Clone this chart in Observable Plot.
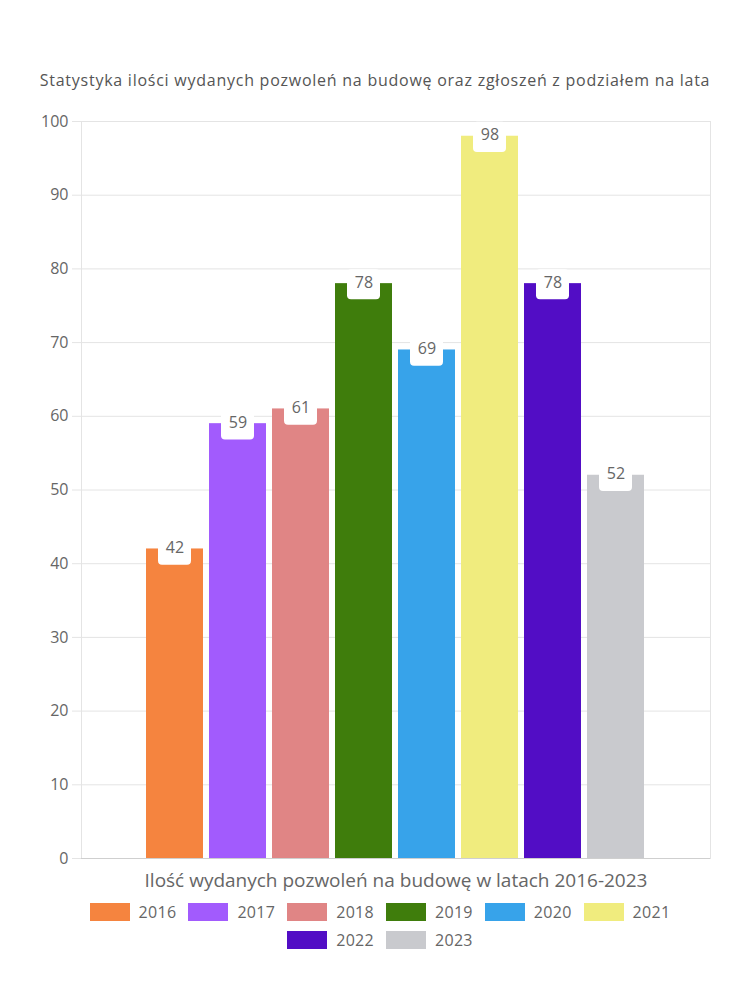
<!DOCTYPE html>
<html><head><meta charset="utf-8">
<script src="https://cdn.jsdelivr.net/npm/d3@7"></script>
<script src="https://cdn.jsdelivr.net/npm/@observablehq/plot@0.6"></script>
<style>
body{margin:0;background:#fff;font-family:"Open Sans",sans-serif;}
#wrap{position:relative;width:750px;height:1000px;}
#title{position:absolute;top:69px;left:0;width:750px;text-align:center;font-size:16px;color:#555;white-space:nowrap;z-index:2;letter-spacing:0.75px;}
#chart{position:absolute;top:0;left:0;}
#legend{position:absolute;top:901px;left:75px;width:610px;display:flex;flex-wrap:wrap;justify-content:center;row-gap:6px;z-index:2;}
.item{display:flex;align-items:center;margin:0 6px;font-size:16px;line-height:22px;color:#666;letter-spacing:0.3px;}
.sw{width:40px;height:18px;margin-right:9px;}
</style>
</head><body>
<div id="wrap">
  <div id="title"></div>
  <div id="chart"></div>
  <div id="legend"></div>
</div>
<script>
const title = "Statystyka ilości wydanych pozwoleń na budowę oraz zgłoszeń z podziałem na lata";
const xLabel = "Ilość wydanych pozwoleń na budowę w latach 2016-2023";
const years = ["2016","2017","2018","2019","2020","2021","2022","2023"];
const values = [42, 59, 61, 78, 69, 98, 78, 52];
const colors = ["#F5843F","#A25BFD","#E08585","#3F7D0C","#37A3EA","#F0EC7E","#520DC5","#C9CACE"];
const yTicks = [0,10,20,30,40,50,60,70,80,90,100];

const data = years.map((y,i)=>({year:y, value:values[i]}));

document.getElementById("title").textContent = title;

const chart = Plot.plot({
  width: 750,
  height: 900,
  marginLeft: 81,
  marginRight: 40,
  marginTop: 121,
  marginBottom: 42,
  style: {fontFamily: "'Open Sans', sans-serif", color: "#666", background: "transparent"},
  x: {type: "band", domain: years, paddingInner: 0.095, paddingOuter: 1.03, axis: null},
  y: {domain: [0, 100], axis: null},
  color: {domain: years, range: colors},
  marks: [
    Plot.gridY(yTicks, {stroke: "#e4e4e4", strokeOpacity: 1}),
    Plot.frame({stroke: "#e4e4e4"}),
    Plot.axisY(yTicks, {tickSize: 9, tickPadding: 4, stroke: "#e4e4e4", fill: "#666", fontSize: 16, tickFormat: d => d, label: null}),
    Plot.barY(data, {x: "year", y: "value", fill: "year"}),
    Plot.ruleY([0], {stroke: "#cfcfcf"}),
    Plot.barY(data, {x: "year", y1: d => d.value - 2.2, y2: d => d.value + 1.9, fill: "white", insetLeft: 12, insetRight: 12, rx: 4}),
    Plot.text(data, {x: "year", y: "value", text: d => String(d.value), fill: "#666", fontSize: 16, lineAnchor: "middle", dy: -1}),
    Plot.text([xLabel], {frameAnchor: "bottom", dy: 22, lineAnchor: "middle", fill: "#666", fontSize: 19, letterSpacing: 0.7})
  ]
});
document.getElementById("chart").appendChild(chart);

const legend = d3.select("#legend");
years.forEach((y,i)=>{
  const it = legend.append("div").attr("class","item");
  it.append("div").attr("class","sw").style("background", colors[i]);
  it.append("span").text(y);
});
</script>
</body></html>
